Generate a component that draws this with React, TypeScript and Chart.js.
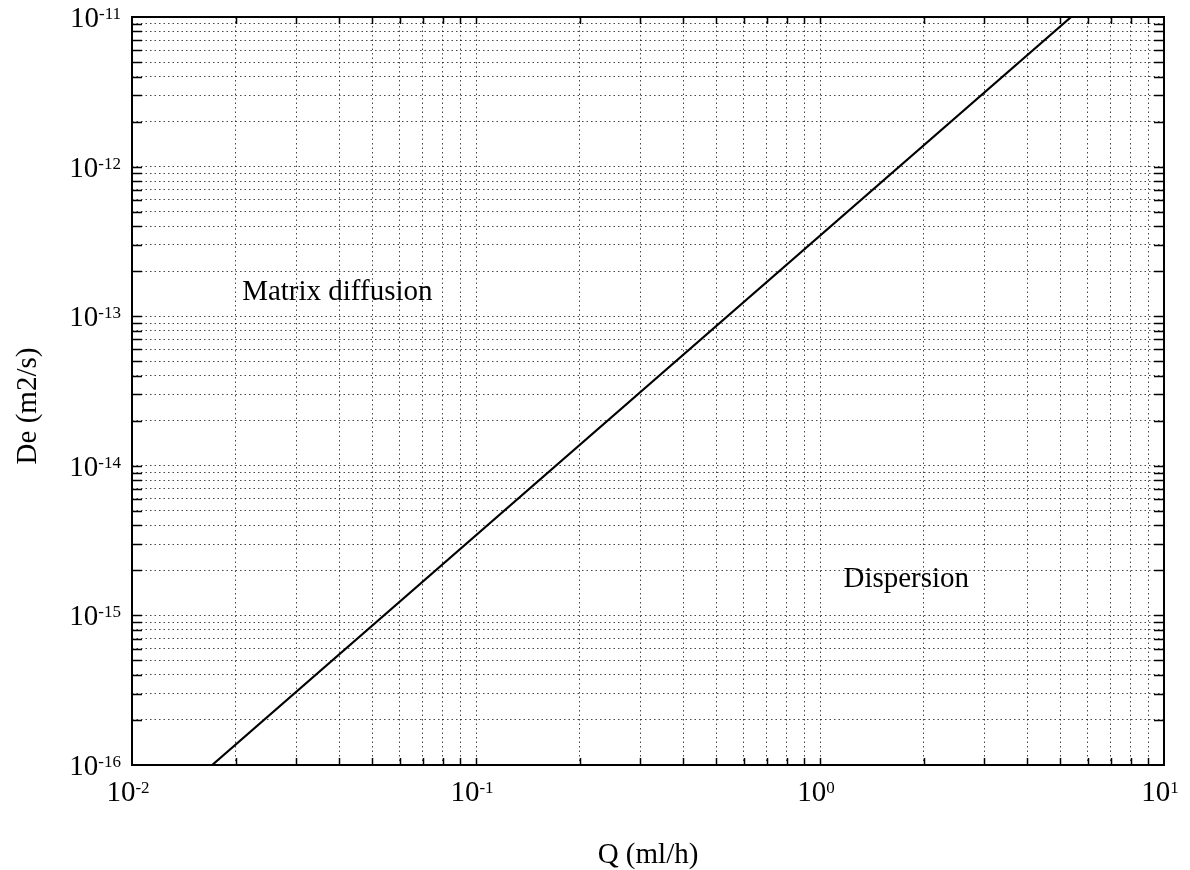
import React, { useEffect, useRef } from "react";
import { Chart, registerables } from "chart.js";

Chart.register(...registerables);

// Boundary between the matrix-diffusion and dispersion regimes (log–log)
const flowRates = [0.0171, 5.37]; // Q (ml/h)
const diffusivities = [1e-16, 1e-11]; // De (m2/s)

// Axis decades (exponents of ten) and the minor steps inside each decade
const xDecades = [-2, -1, 0, 1];
const yDecades = [-16, -15, -14, -13, -12, -11];
const minorSteps = [2, 3, 4, 5, 6, 7, 8, 9];

// Tick label exponents
const xTickExponents = ["-2", "-1", "0", "1"];
const yTickExponents = ["-16", "-15", "-14", "-13", "-12", "-11"];

// Region names and the data point where each one starts (left, baseline)
const regionNames = ["Matrix diffusion", "Dispersion"];
const regionQ = [0.0209, 1.17];
const regionDe = [1.28e-13, 1.55e-15];

const SERIF = '"Liberation Serif", "Times New Roman", Times, serif';

function decadeTicks(decades: number[]) {
  const values: number[] = [];
  decades.forEach((e, i) => {
    const base = Math.pow(10, e);
    values.push(base);
    if (i < decades.length - 1) {
      minorSteps.forEach((m) => values.push(Number((m * base).toPrecision(3))));
    }
  });
  return values;
}

const xTickValues = decadeTicks(xDecades);
const yTickValues = decadeTicks(yDecades);

function drawPower(
  ctx: CanvasRenderingContext2D,
  exponent: string,
  x: number,
  baseline: number,
  align: "center" | "right"
) {
  ctx.font = `29px ${SERIF}`;
  const wBase = ctx.measureText("10").width;
  ctx.font = `17px ${SERIF}`;
  const wExp = ctx.measureText(exponent).width;
  const total = wBase + wExp;
  const start = align === "center" ? x - total / 2 : x - total;
  ctx.textAlign = "left";
  ctx.textBaseline = "alphabetic";
  ctx.font = `29px ${SERIF}`;
  ctx.fillText("10", start, baseline);
  ctx.font = `17px ${SERIF}`;
  ctx.fillText(exponent, start + wBase, baseline - 8);
}

const frameAndText = {
  id: "frameAndText",
  afterDraw(chart: any) {
    const { ctx, chartArea: a, scales } = chart;
    const xs = scales.x;
    const ys = scales.y;
    ctx.save();
    ctx.fillStyle = "#000";
    ctx.strokeStyle = "#000";

    // inward tick marks on all four sides
    ctx.lineWidth = 1.5;
    ctx.beginPath();
    xTickValues.forEach((v) => {
      const px = Math.round(xs.getPixelForValue(v)) + 0.5;
      if (px <= a.left + 1 || px >= a.right - 1) return;
      ctx.moveTo(px, a.bottom);
      ctx.lineTo(px, a.bottom - 7);
      ctx.moveTo(px, a.top);
      ctx.lineTo(px, a.top + 7);
    });
    yTickValues.forEach((v) => {
      const py = Math.round(ys.getPixelForValue(v)) + 0.5;
      if (py <= a.top + 1 || py >= a.bottom - 1) return;
      ctx.moveTo(a.left, py);
      ctx.lineTo(a.left + 10, py);
      ctx.moveTo(a.right, py);
      ctx.lineTo(a.right - 10, py);
    });
    ctx.stroke();

    // plot frame
    ctx.lineWidth = 2;
    ctx.strokeRect(a.left, a.top, a.right - a.left, a.bottom - a.top);

    // decade labels
    xDecades.forEach((e, i) => {
      const px = xs.getPixelForValue(Math.pow(10, e));
      drawPower(ctx, xTickExponents[i], px - 4, a.bottom + 36, "center");
    });
    yDecades.forEach((e, i) => {
      const py = ys.getPixelForValue(Math.pow(10, e));
      drawPower(ctx, yTickExponents[i], a.left - 11, py + 10, "right");
    });

    // axis titles
    ctx.font = `29px ${SERIF}`;
    ctx.textAlign = "center";
    ctx.textBaseline = "alphabetic";
    ctx.fillText("Q (ml/h)", (a.left + a.right) / 2, a.bottom + 98);
    ctx.save();
    ctx.translate(a.left - 104, (a.top + a.bottom) / 2 + 15);
    ctx.rotate(-Math.PI / 2);
    ctx.textBaseline = "middle";
    ctx.fillText("De (m2/s)", 0, 0);
    ctx.restore();

    // region names
    ctx.textAlign = "left";
    ctx.textBaseline = "alphabetic";
    regionNames.forEach((name, i) => {
      ctx.fillText(name, xs.getPixelForValue(regionQ[i]), ys.getPixelForValue(regionDe[i]));
    });

    ctx.restore();
  },
};

export default function App() {
  const canvasRef = useRef<HTMLCanvasElement | null>(null);

  useEffect(() => {
    const canvas = canvasRef.current;
    if (!canvas) return;
    const gridStyle = {
      color: "rgba(0,0,0,0.72)",
      lineWidth: 1,
      drawTicks: false,
    };
    const chart = new Chart(canvas, {
      type: "scatter",
      data: {
        datasets: [
          {
            label: "De",
            data: flowRates.map((q, i) => ({ x: q, y: diffusivities[i] })),
            showLine: true,
            borderColor: "#000",
            borderWidth: 2.2,
            pointRadius: 0,
            fill: false,
          },
        ],
      },
      options: {
        animation: false,
        responsive: false,
        devicePixelRatio: 1,
        layout: { padding: { left: 132, top: 17, right: 26, bottom: 105 } },
        plugins: {
          legend: { display: false },
          tooltip: { enabled: false },
        },
        scales: {
          x: {
            type: "logarithmic",
            min: 0.01,
            max: 10,
            afterBuildTicks: (scale: any) => {
              scale.ticks = xTickValues.map((value) => ({ value }));
            },
            ticks: { display: false },
            grid: gridStyle,
            border: { display: false, dash: [1.5, 3] },
          },
          y: {
            type: "logarithmic",
            min: 1e-16,
            max: 1e-11,
            afterBuildTicks: (scale: any) => {
              scale.ticks = yTickValues.map((value) => ({ value }));
            },
            ticks: { display: false },
            grid: gridStyle,
            border: { display: false, dash: [1.5, 3] },
          },
        },
      },
      plugins: [frameAndText],
    });
    return () => chart.destroy();
  }, []);

  return (
    <div style={{ position: "fixed", left: 0, top: 0, width: 1190, height: 870, background: "#fff" }}>
      <canvas ref={canvasRef} width={1190} height={870} style={{ display: "block" }} />
    </div>
  );
}
